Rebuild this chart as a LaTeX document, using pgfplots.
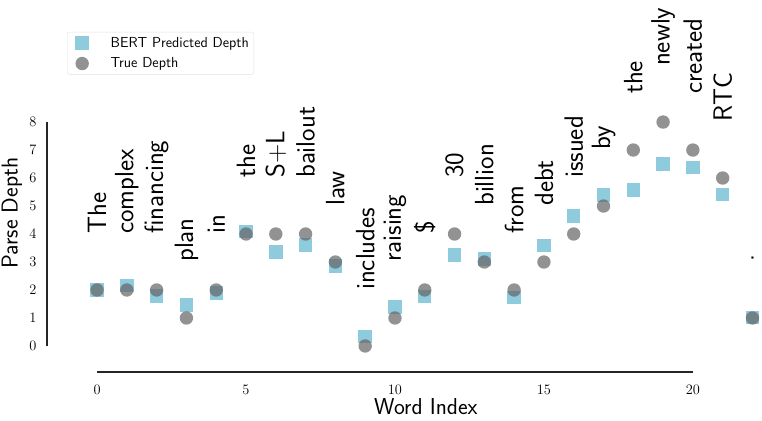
\documentclass[border=0pt]{standalone}
\usepackage{pgfplots}
\pgfplotsset{compat=1.18}
\definecolor{bertblue}{RGB}{142,203,221}
\definecolor{truegray}{RGB}{100,100,100}
\begin{document}
\begin{tikzpicture}
\begin{axis}[
  at={(47pt,48pt)}, anchor=south west,
  scale only axis, width=715pt, height=372pt,
  xmin=-1.68, xmax=22.32, ymin=-0.93, ymax=12.36,
  clip=false,
  axis line style={draw=none},
  tick style={draw=none},
  xtick={0,5,10,15,20}, ytick={0,1,...,8},
  tick label style={font=\fontsize{14}{16}\selectfont},
  xticklabel style={yshift=-10pt},
  yticklabel style={xshift=-7pt},
  legend style={at={(axis description cs:0.028,0.914)}, anchor=north west,
    draw=black!12, rounded corners=2pt, font=\fontsize{14.5}{16}\selectfont\sffamily,
    row sep=5pt, inner xsep=3pt, inner ysep=3pt},
  legend cell align=left,
  legend image code/.code={\draw[#1] plot coordinates {(0.42cm,0cm)}; \path[draw=none,fill=none] (0cm,-0.2cm) rectangle (1.35cm,0.2cm);},
]
\addplot[only marks, mark=square*, mark size=6.7pt, color=bertblue,
  mark options={fill=bertblue, draw opacity=0}] coordinates {
(0,2.0) (1,2.15) (2,1.79) (3,1.46) (4,1.89) (5,4.08) (6,3.35) (7,3.6)
(8,2.86) (9,0.33) (10,1.39) (11,1.76) (12,3.25) (13,3.1) (14,1.73)
(15,3.58) (16,4.64) (17,5.39) (18,5.57) (19,6.5) (20,6.38) (21,5.42) (22,1.02)
};
\addlegendentry{BERT Predicted Depth}
\addplot[only marks, mark=*, mark size=6.7pt, color=truegray,
  mark options={fill=truegray, fill opacity=0.7, draw opacity=0}] coordinates {
(0,2) (1,2) (2,2) (3,1) (4,2) (5,4) (6,4) (7,4) (8,3) (9,0) (10,1) (11,2)
(12,4) (13,3) (14,2) (15,3) (16,4) (17,5) (18,7) (19,8) (20,7) (21,6) (22,1)
};
\addlegendentry{True Depth}
\addplot[only marks, mark=none, draw=none, forget plot,
  nodes near coords, point meta=explicit symbolic,
  nodes near coords style={rotate=90, anchor=west, inner sep=0pt,
    font=\fontsize{26.5}{28}\selectfont\sffamily, text=black}] coordinates {
(0,4) [The] (1,4) [complex] (2,4) [financing] (3,3) [plan] (4,4) [in]
(5,6) [the] (6,6) [S+L] (7,6) [bailout] (8,5) [law] (9,2) [includes]
(10,3) [raising] (11,4) [\$] (12,6) [30] (13,5) [billion] (14,4) [from]
(15,5) [debt] (16,6) [issued] (17,7) [by] (18,9) [the] (19,10) [newly]
(20,9) [created] (21,8) [RTC] (22,3) [.]
};
\draw[line width=1.3pt, black!85] (axis cs:-1.68,0) -- (axis cs:-1.68,8);
\draw[line width=1.3pt, black!85] (axis cs:0,-0.93) -- (axis cs:20,-0.93);
\node[rotate=90, font=\fontsize{23}{26}\selectfont\sffamily] at ([xshift=-35pt]axis description cs:0,0.427) {Parse Depth};
\node[font=\fontsize{23}{26}\selectfont\sffamily] at ([yshift=-35pt]axis cs:11.04,-0.93) {Word Index};
\end{axis}
\pgfresetboundingbox
\useasboundingbox (0,0) rectangle (762pt,420pt);
\end{tikzpicture}
\end{document}
